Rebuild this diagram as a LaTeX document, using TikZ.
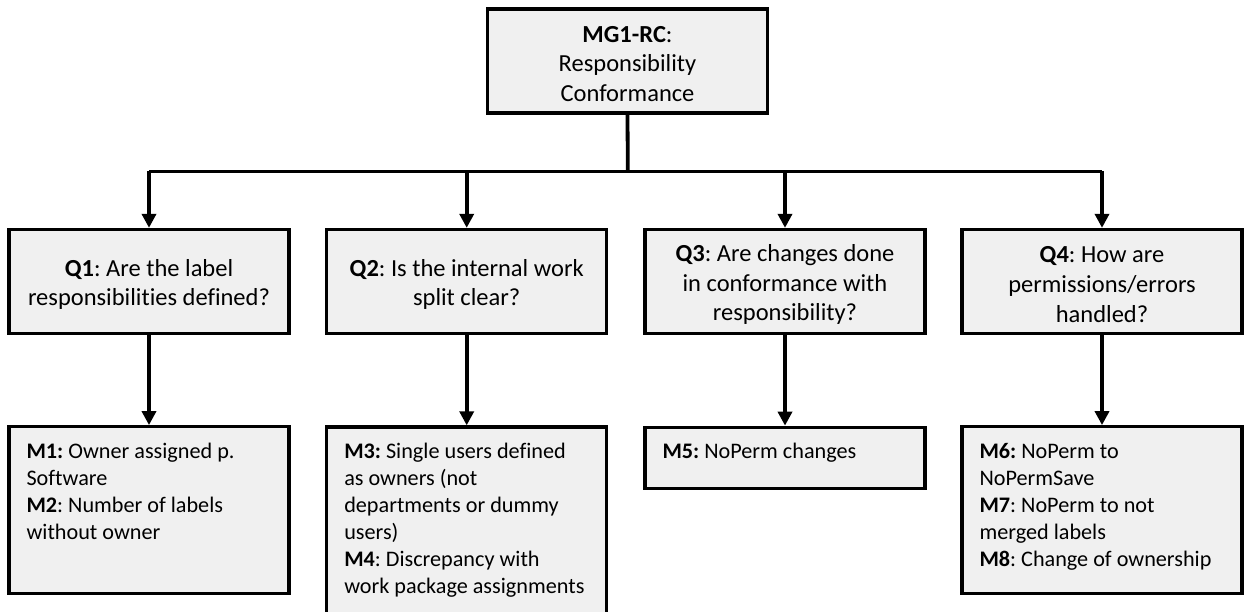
\documentclass[tikz,border=0pt]{standalone}
\usepackage{fontspec}
\setmainfont{Carlito}[Ligatures=NoCommon]
\frenchspacing
\usetikzlibrary{arrows.meta}
\definecolor{boxgray}{HTML}{F0F0F0}
\begin{document}
\begin{tikzpicture}[x=1pt,y=-1pt,
  box/.style={draw=black,line width=3.3pt,fill=boxgray,inner sep=0pt,
    minimum width=280pt},
  goaltext/.style={inner sep=0pt,align=center,
    font=\fontsize{24.5}{29.8}\selectfont},
  qtext/.style={inner sep=0pt,align=center,
    font=\fontsize{24.5}{29.6}\selectfont},
  mtext/.style={anchor=north west,inner sep=0pt,align=left,
    font=\fontsize{22.2}{27}\selectfont},
  link/.style={line width=3.8pt},
  arrow/.style={line width=3.8pt,-{Triangle[width=14pt,length=14pt]}}]
\useasboundingbox (0,0) rectangle (1246,612);

% goal
\node[box,minimum height=104pt] (goal) at (627.5,61) {};
\node[goaltext] (goalt) at ([shift={(0,3)}]goal.center)
  {\textbf{MG1-RC}:\\Responsibility\\Conformance};

% questions
\node[box,minimum height=104pt] (q1) at (149,281.5) {};
\node[box,minimum height=104pt] (q2) at (466.7,281.5) {};
\node[box,minimum height=104pt] (q3) at (785,281.5) {};
\node[box,minimum height=104pt] (q4) at (1102,281.5) {};
\node[qtext] (q1t) at ([shift={(0,3)}]q1.center) {\textbf{Q1}: Are the label\\responsibilities defined?};
\node[qtext] (q2t) at ([shift={(0,3)}]q2.center) {\textbf{Q2}: Is the internal work\\split clear?};
\node[qtext] (q3t) at ([shift={(0,3)}]q3.center) {\textbf{Q3}: Are changes done\\in conformance with\\responsibility?};
\node[qtext] (q4t) at ([shift={(0,3)}]q4.center) {\textbf{Q4}: How are\\permissions/errors\\handled?};

% metric boxes
\node[box,minimum height=166.5pt] (m12) at (149,510) {};
\node[box,minimum height=190pt] (m34) at (466.7,522) {};
\node[box,minimum height=61pt] (m5) at (785,457.8) {};
\node[box,minimum height=166.5pt] (m678) at (1102,510) {};

% metric texts
\node[mtext] (t12) at ([shift={(19,15)}]m12.north west)
  {\rule{0pt}{18pt}\textbf{M1:} Owner assigned p.\\Software\\\textbf{M2}: Number of labels\\without owner};
\node[mtext] (t34) at ([shift={(19,15)}]m34.north west)
  {\rule{0pt}{18pt}\textbf{M3:} Single users defined\\as owners (not\\departments or dummy\\users)\\\textbf{M4}: Discrepancy with\\work package assignments};
\node[mtext] (t5) at ([shift={(19,15)}]m5.north west)
  {\rule{0pt}{18pt}\textbf{M5:} NoPerm changes};
\node[mtext] (t678) at ([shift={(19,15)}]m678.north west)
  {\rule{0pt}{18pt}\textbf{M6:} NoPerm to\\NoPermSave\\\textbf{M7}: NoPerm to not\\merged labels\\\textbf{M8}: Change of ownership};

% tree connectors
\coordinate (bus) at (627.8,171.5);
\draw[link] (goal.south) -- (bus);
\draw[link] (q1.north |- bus) -- (q4.north |- bus);
\foreach \q in {q1,q2,q3,q4}
  \draw[arrow] (\q.north |- bus) -- (\q.north);
\draw[arrow] (q1.south) -- (m12.north);
\draw[arrow] (q2.south) -- (m34.north);
\draw[arrow] (q3.south) -- (m5.north);
\draw[arrow] (q4.south) -- (m678.north);
\end{tikzpicture}
\end{document}
